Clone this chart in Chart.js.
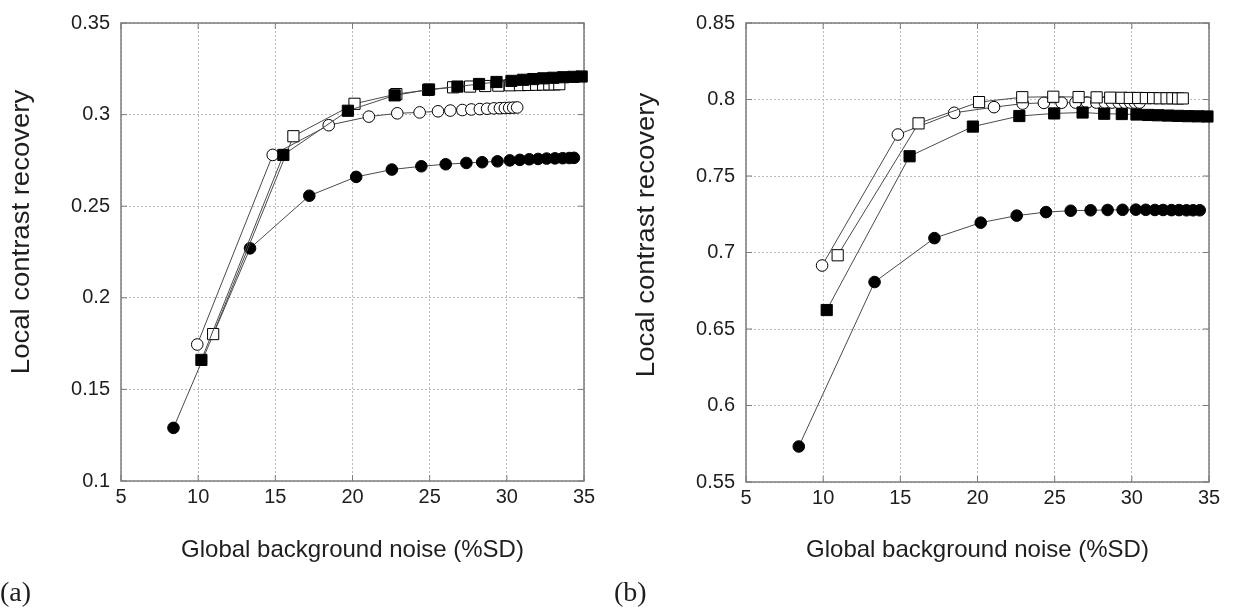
<!DOCTYPE html>
<html>
<head>
<meta charset="utf-8">
<script src="https://cdn.jsdelivr.net/npm/chart.js@4.4.1/dist/chart.umd.min.js"></script>
<style>
  html, body { margin: 0; padding: 0; background: #fff; }
  #wrap { position: relative; width: 1235px; height: 610px; overflow: hidden; }
  canvas { position: absolute; top: 0; }
  #chartA { left: 0; }
  #chartB { left: 610px; }
</style>
</head>
<body>
<div id="wrap">
  <canvas id="chartA" width="610" height="610"></canvas>
  <canvas id="chartB" width="625" height="610"></canvas>
</div>
<script>
// ---- panel (a) ----
const aFilledSqX = [10.21, 15.52, 19.7, 22.73, 24.96, 26.8, 28.2, 29.33, 30.3, 31.06, 31.71, 32.36, 33.01, 33.66, 34.31, 34.85];
const aFilledSqY = [0.1661, 0.278, 0.3021, 0.3105, 0.3137, 0.3153, 0.3167, 0.3178, 0.3184, 0.319, 0.3194, 0.3198, 0.3201, 0.3204, 0.3206, 0.3208];
const aOpenSqX = [10.97, 16.17, 20.13, 22.84, 24.9, 26.52, 27.62, 28.6, 29.45, 30.2, 30.85, 31.4, 31.9, 32.35, 32.75, 33.1, 33.4];
const aOpenSqY = [0.1802, 0.2882, 0.3059, 0.3112, 0.3135, 0.3149, 0.3153, 0.3156, 0.3158, 0.316, 0.3161, 0.3162, 0.3163, 0.3164, 0.3165, 0.3165, 0.3166];
const aOpenCircX = [9.94, 14.83, 18.46, 21.06, 22.9, 24.35, 25.54, 26.34, 27.12, 27.7, 28.25, 28.72, 29.16, 29.55, 29.87, 30.15, 30.41, 30.67];
const aOpenCircY = [0.1745, 0.278, 0.2942, 0.2989, 0.3007, 0.3012, 0.3018, 0.3022, 0.3025, 0.3028, 0.303, 0.3032, 0.3034, 0.3035, 0.3036, 0.3037, 0.3038, 0.3039];
const aFilledCircX = [8.4, 13.36, 17.2, 20.24, 22.55, 24.46, 26.04, 27.38, 28.4, 29.39, 30.19, 30.84, 31.45, 32.03, 32.58, 33.12, 33.62, 34.05, 34.35];
const aFilledCircY = [0.129, 0.227, 0.2557, 0.266, 0.27, 0.2718, 0.2729, 0.2736, 0.274, 0.2745, 0.275, 0.2753, 0.2756, 0.2758, 0.276, 0.2761, 0.2762, 0.2763, 0.2764];
const aYTicks = [0.1, 0.15, 0.2, 0.25, 0.3, 0.35];

// ---- panel (b) ----
const bFilledSqX = [10.23, 15.6, 19.7, 22.71, 24.97, 26.81, 28.21, 29.35, 30.3, 31.05, 31.7, 32.35, 33.0, 33.64, 34.29, 34.9];
const bFilledSqY = [0.6624, 0.7629, 0.7823, 0.7892, 0.7909, 0.7915, 0.7907, 0.7905, 0.7902, 0.7899, 0.7897, 0.7895, 0.7893, 0.7891, 0.789, 0.7889];
const bOpenSqX = [10.94, 16.18, 20.1, 22.9, 24.91, 26.55, 27.72, 28.6, 29.33, 29.87, 30.41, 30.91, 31.38, 31.81, 32.25, 32.63, 33.0, 33.3];
const bOpenSqY = [0.6982, 0.7844, 0.7983, 0.8015, 0.8018, 0.8016, 0.8014, 0.8012, 0.8011, 0.801, 0.801, 0.8009, 0.8009, 0.8008, 0.8008, 0.8008, 0.8007, 0.8007];
const bOpenCircX = [9.93, 14.84, 18.49, 21.07, 22.93, 24.3, 25.45, 26.35, 27.1, 27.7, 28.25, 28.72, 29.15, 29.55, 29.9, 30.2, 30.5];
const bOpenCircY = [0.6915, 0.7771, 0.7913, 0.795, 0.7973, 0.7978, 0.7979, 0.798, 0.798, 0.798, 0.798, 0.798, 0.798, 0.798, 0.798, 0.798, 0.798];
const bFilledCircX = [8.42, 13.33, 17.21, 20.21, 22.54, 24.44, 26.04, 27.33, 28.43, 29.4, 30.26, 30.9, 31.49, 32.03, 32.57, 33.06, 33.54, 33.97, 34.4];
const bFilledCircY = [0.5732, 0.6807, 0.7094, 0.7195, 0.7241, 0.7264, 0.7273, 0.7276, 0.7278, 0.7279, 0.728, 0.7279, 0.7278, 0.7278, 0.7277, 0.7277, 0.7276, 0.7276, 0.7276];
const bYTicks = [0.55, 0.6, 0.65, 0.7, 0.75, 0.8, 0.85];

const xTicks = [5, 10, 15, 20, 25, 30, 35];
const xTitle = 'Global background noise (%SD)';
const yTitle = 'Local contrast recovery';

const SANS = '"Liberation Sans", Arial, sans-serif';
const FRAME = '#7d7d7d';

// frame round the plot, inner tick marks, axis titles and the panel letter
const panelText = {
  id: 'panelText',
  beforeDatasetsDraw(chart) {
    const { ctx, chartArea: a, scales } = chart;
    ctx.save();
    ctx.strokeStyle = FRAME;
    ctx.lineWidth = 1.5;
    ctx.strokeRect(a.left, a.top, a.right - a.left, a.bottom - a.top);
    ctx.lineWidth = 1;
    ctx.beginPath();
    scales.x.ticks.forEach(t => {
      const px = scales.x.getPixelForValue(t.value);
      ctx.moveTo(px, a.bottom); ctx.lineTo(px, a.bottom - 6);
      ctx.moveTo(px, a.top); ctx.lineTo(px, a.top + 6);
    });
    scales.y.ticks.forEach(t => {
      const py = scales.y.getPixelForValue(t.value);
      ctx.moveTo(a.left, py); ctx.lineTo(a.left + 6, py);
      ctx.moveTo(a.right, py); ctx.lineTo(a.right - 6, py);
    });
    ctx.stroke();
    ctx.restore();
  },
  afterDraw(chart, args, opts) {
    const { ctx, chartArea: a } = chart;
    ctx.save();
    ctx.fillStyle = '#1e1e1e';
    ctx.textAlign = 'center';
    ctx.textBaseline = 'middle';
    ctx.font = '24px ' + SANS;
    ctx.fillText(xTitle, (a.left + a.right) / 2, opts.xTitleY);

    ctx.save();
    ctx.translate(opts.yTitleX, opts.yTitleY);
    ctx.rotate(-Math.PI / 2);
    ctx.scale(1.1, 1);
    ctx.font = '25px ' + SANS;
    ctx.fillText(yTitle, 0, 0);
    ctx.restore();

    ctx.textAlign = 'left';
    ctx.textBaseline = 'alphabetic';
    ctx.font = '28px "Liberation Serif", "Times New Roman", serif';
    ctx.fillText(opts.letter, opts.letterX, 601);
    ctx.restore();
  }
};

function series(xs, ys, style, fill) {
  return {
    data: xs.map((x, i) => ({ x, y: ys[i] })),
    showLine: true,
    borderColor: '#4a4a4a',
    borderWidth: 1,
    pointStyle: style,
    pointRadius: style === 'rect' ? 7.9 : 5.8,
    pointBackgroundColor: fill,
    pointBorderColor: '#000',
    pointBorderWidth: 1,
    clip: false
  };
}

function makeChart(id, datasets, yTicks, box, text) {
  return new Chart(document.getElementById(id), {
    type: 'scatter',
    data: { datasets },
    options: {
      responsive: false,
      animation: false,
      layout: { padding: { left: 0, top: box.top, right: box.right, bottom: 0 } },
      plugins: {
        legend: { display: false },
        tooltip: { enabled: false },
        panelText: text
      },
      scales: {
        x: {
          type: 'linear',
          min: xTicks[0],
          max: xTicks[xTicks.length - 1],
          afterBuildTicks: ax => { ax.ticks = xTicks.map(v => ({ value: v })); },
          afterFit: ax => { ax.height = box.xh; },
          grid: { color: '#bcbcbc', lineWidth: 1, drawTicks: false },
          border: { display: false, dash: [2, 2] },
          ticks: { color: '#1e1e1e', padding: 4, font: { family: SANS, size: 20 }, maxRotation: 0,
                   callback: v => String(v) }
        },
        y: {
          type: 'linear',
          min: yTicks[0],
          max: yTicks[yTicks.length - 1],
          afterBuildTicks: ax => { ax.ticks = yTicks.map(v => ({ value: v })); },
          afterFit: ax => { ax.width = box.yw; },
          grid: { color: '#bcbcbc', lineWidth: 1, drawTicks: false },
          border: { display: false, dash: [2, 2] },
          ticks: { color: '#1e1e1e', padding: 11, font: { family: SANS, size: 20 },
                   callback: v => String(v) }
        }
      }
    },
    plugins: [panelText]
  });
}

makeChart('chartA', [
  series(aFilledSqX, aFilledSqY, 'rect', '#000'),
  series(aOpenSqX, aOpenSqY, 'rect', '#fff'),
  series(aOpenCircX, aOpenCircY, 'circle', '#fff'),
  series(aFilledCircX, aFilledCircY, 'circle', '#000')
], aYTicks, { top: 19, right: 26, xh: 129, yw: 121 },
   { xTitleY: 550, yTitleX: 22, yTitleY: 232, letter: '(a)', letterX: 0 });

makeChart('chartB', [
  series(bFilledSqX, bFilledSqY, 'rect', '#000'),
  series(bOpenSqX, bOpenSqY, 'rect', '#fff'),
  series(bOpenCircX, bOpenCircY, 'circle', '#fff'),
  series(bFilledCircX, bFilledCircY, 'circle', '#000')
], bYTicks, { top: 19, right: 26, xh: 128, yw: 136 },
   { xTitleY: 550, yTitleX: 37, yTitleY: 235, letter: '(b)', letterX: 4 });
</script>
</body>
</html>
